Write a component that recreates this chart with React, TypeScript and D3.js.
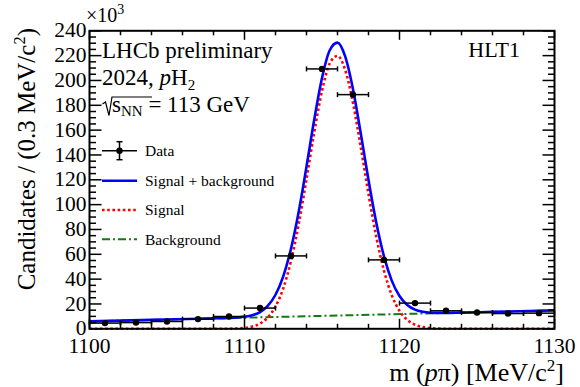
import React from "react";
import * as d3 from "d3";

// ---- Data (values in units of 10^3 candidates) ----
const massBins = [1101, 1103, 1105, 1107, 1109, 1111, 1113, 1115, 1117, 1119, 1121, 1123, 1125, 1127, 1129];
const counts = [4.6, 5.0, 5.9, 7.8, 9.9, 16.7, 58.7, 209.3, 188.6, 55.5, 20.7, 14.5, 13.1, 12.3, 12.6];
const binHalfWidth = 1;

// Fit components
const signalX = [1100, 1104, 1107, 1108, 1109, 1109.5, 1110, 1110.5, 1111, 1111.5, 1112, 1112.5, 1113, 1113.5, 1114, 1114.5, 1115, 1115.5, 1116, 1116.5, 1117, 1117.5, 1118, 1118.5, 1119, 1119.5, 1120, 1120.5, 1121, 1121.5, 1122, 1122.5, 1123, 1124, 1126, 1130];
const signalY = [0, 0, 0, 0.01, 0.09, 0.26, 0.72, 1.8, 4.2, 9.1, 17.9, 32.6, 54.7, 84.5, 120.5, 158.3, 191.6, 213.8, 219.8, 208.3, 181.9, 146.4, 108.6, 74.2, 46.7, 27.1, 14.5, 7.2, 3.3, 1.4, 0.5, 0.19, 0.06, 0.01, 0, 0];
const backgroundX = [1100, 1130];
const backgroundY = [6.0, 14.8];

const xMajorTicks = [1100, 1110, 1120, 1130];
const yMajorTicks = [0, 20, 40, 60, 80, 100, 120, 140, 160, 180, 200, 220, 240];

const legendItems = ["Data", "Signal + background", "Signal", "Background"];

const W = 580, H = 387;
const L = 89.5, R = 554.5, T = 30.8, B = 328.8;
const SERIF = "'Liberation Serif', 'Times New Roman', serif";

export default function App() {
  const x = d3.scaleLinear().domain([1100, 1130]).range([L, R]);
  const y = d3.scaleLinear().domain([0, 240]).range([B, T]);
  const bkgAt = d3.scaleLinear().domain(backgroundX).range(backgroundY);

  const line = d3
    .line<[number, number]>()
    .x((d) => x(d[0]))
    .y((d) => y(d[1]))
    .curve(d3.curveMonotoneX);

  const sigPts: [number, number][] = signalX.map((v, i) => [v, signalY[i]]);
  const totPts: [number, number][] = signalX.map((v, i) => [v, signalY[i] + bkgAt(v)]);
  const bkgPts: [number, number][] = backgroundX.map((v, i) => [v, backgroundY[i]]);

  const xMinor = d3.range(1100, 1130.01, 2).filter((v) => !xMajorTicks.includes(v));
  const yMinor = d3.range(0, 240.01, 5).filter((v) => v % 20 !== 0);

  const blue = "#0000ff";
  const red = "#ff0000";
  const green = "#137a13";

  const legY = [150.7, 180.7, 210, 239.3];

  return (
    <svg
      width={W}
      height={H}
      viewBox={`0 0 ${W} ${H}`}
      style={{ position: "absolute", left: 0, top: 0, background: "#fff" }}
      fontFamily={SERIF}
    >
      <rect x={0} y={0} width={W} height={H} fill="#fff" />

      {/* curves */}
      <path d={line(bkgPts) || ""} fill="none" stroke={green} strokeWidth={2} strokeDasharray="8 3 2 3" />
      <path d={line(sigPts) || ""} fill="none" stroke={red} strokeWidth={2.6} strokeDasharray="2.6 2.6" />
      <path d={line(totPts) || ""} fill="none" stroke={blue} strokeWidth={2.6} />

      {/* data */}
      {massBins.map((m, i) => (
        <g key={m} stroke="#000" strokeWidth={1.5}>
          <line x1={x(m - binHalfWidth)} x2={x(m + binHalfWidth)} y1={y(counts[i])} y2={y(counts[i])} />
          <line x1={x(m - binHalfWidth)} x2={x(m - binHalfWidth)} y1={y(counts[i]) - 2.5} y2={y(counts[i]) + 2.5} />
          <line x1={x(m + binHalfWidth)} x2={x(m + binHalfWidth)} y1={y(counts[i]) - 2.5} y2={y(counts[i]) + 2.5} />
          <circle cx={x(m)} cy={y(counts[i])} r={3.2} fill="#000" stroke="none" />
        </g>
      ))}

      {/* frame */}
      <rect x={L} y={T} width={R - L} height={B - T} fill="none" stroke="#000" strokeWidth={2} />

      {/* ticks */}
      <g stroke="#000" strokeWidth={1.5}>
        {xMajorTicks.map((v) => (
          <g key={"xM" + v}>
            <line x1={x(v)} x2={x(v)} y1={B} y2={B - 10} />
            <line x1={x(v)} x2={x(v)} y1={T} y2={T + 9} />
          </g>
        ))}
        {xMinor.map((v) => (
          <g key={"xm" + v}>
            <line x1={x(v)} x2={x(v)} y1={B} y2={B - 5} />
            <line x1={x(v)} x2={x(v)} y1={T} y2={T + 4.5} />
          </g>
        ))}
        {yMajorTicks.map((v) => (
          <g key={"yM" + v}>
            <line x1={L} x2={L + 12} y1={y(v)} y2={y(v)} />
            <line x1={R} x2={R - 12} y1={y(v)} y2={y(v)} />
          </g>
        ))}
        {yMinor.map((v) => (
          <g key={"ym" + v}>
            <line x1={L} x2={L + 6.5} y1={y(v)} y2={y(v)} />
            <line x1={R} x2={R - 6.5} y1={y(v)} y2={y(v)} />
          </g>
        ))}
      </g>

      {/* tick labels */}
      <g fontSize={21.5} fill="#000">
        {xMajorTicks.map((v) => (
          <text key={"xl" + v} x={x(v)} y={352.5} textAnchor="middle">
            {v}
          </text>
        ))}
        {yMajorTicks.map((v) => (
          <text key={"yl" + v} x={86.5} y={y(v) + 6.6} textAnchor="end">
            {v}
          </text>
        ))}
      </g>
      <text x={86} y={22} fontSize={20}>
        ×10<tspan fontSize={14} dy={-8}>3</tspan>
      </text>

      {/* axis titles */}
      <text x={564} y={381} fontSize={26} textAnchor="end">
        m (<tspan fontStyle="italic">p</tspan>π) [MeV/c<tspan fontSize={17} dy={-10}>2</tspan>
        <tspan dy={10}>]</tspan>
      </text>
      <text transform="translate(35,28) rotate(-90)" fontSize={25} textAnchor="end">
        Candidates / (0.3 MeV/c<tspan fontSize={16.5} dy={-10}>2</tspan>
        <tspan dy={10}>)</tspan>
      </text>

      {/* annotations */}
      <text x={102} y={58} fontSize={23}>LHCb preliminary</text>
      <text x={102} y={85} fontSize={23}>
        2024, <tspan fontStyle="italic">p</tspan>H<tspan fontSize={15} dy={5}>2</tspan>
      </text>
      <path d="M102.5,104 L105.5,102 L109,115.5 L112,97 L152,97" fill="none" stroke="#000" strokeWidth={1.2} />
      <text x={112} y={111.7} fontSize={23}>
        s<tspan fontSize={15} dy={4}>NN</tspan>
        <tspan dy={-4}> = 113 GeV</tspan>
      </text>
      <text x={520} y={57} fontSize={22} textAnchor="end">HLT1</text>

      {/* legend */}
      <g>
        <g stroke="#000" strokeWidth={1.5}>
          <line x1={102} x2={137} y1={legY[0]} y2={legY[0]} />
          <line x1={119.5} x2={119.5} y1={legY[0] - 9} y2={legY[0] + 9} />
          <line x1={116.5} x2={122.5} y1={legY[0] - 9} y2={legY[0] - 9} />
          <line x1={116.5} x2={122.5} y1={legY[0] + 9} y2={legY[0] + 9} />
          <circle cx={119.5} cy={legY[0]} r={3.2} fill="#000" stroke="none" />
        </g>
        <line x1={102} x2={137} y1={legY[1]} y2={legY[1]} stroke={blue} strokeWidth={2.6} />
        <line x1={102} x2={137} y1={legY[2]} y2={legY[2]} stroke={red} strokeWidth={2.6} strokeDasharray="2.6 2.6" />
        <line x1={102} x2={137} y1={legY[3]} y2={legY[3]} stroke={green} strokeWidth={2} strokeDasharray="8 3 2 3" />
        {legendItems.map((t, i) => (
          <text key={t} x={145} y={legY[i] + 5.3} fontSize={15.5}>
            {t}
          </text>
        ))}
      </g>
    </svg>
  );
}
